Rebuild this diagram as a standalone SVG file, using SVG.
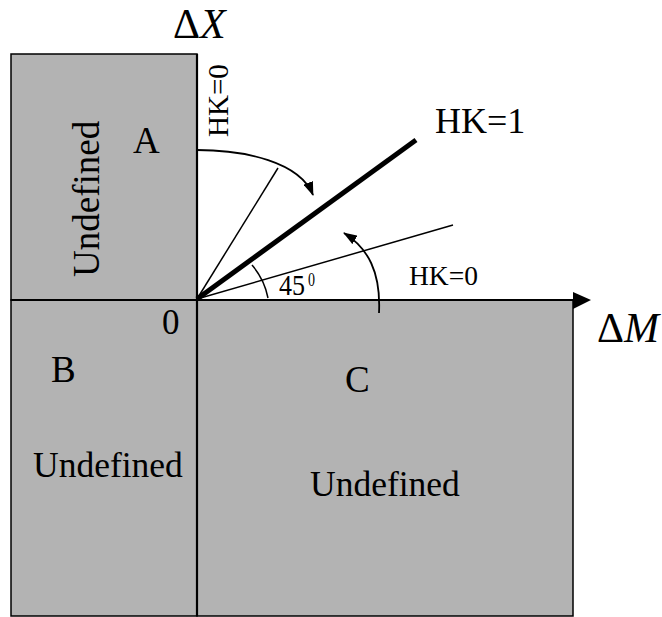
<svg xmlns="http://www.w3.org/2000/svg" width="662" height="617" viewBox="0 0 662 617">
<style>
.t{font-family:"Liberation Serif","Times New Roman",serif;fill:#000}
.reg{fill:#b3b3b3;stroke:#000;stroke-width:1.5}
.ln{stroke:#000;fill:none}
</style>
<defs>
<marker id="ah" viewBox="0 0 14 10" refX="13" refY="5" markerWidth="14" markerHeight="10" markerUnits="userSpaceOnUse" orient="auto">
<path d="M0,0 L14,5 L0,10 Z" fill="#000"/>
</marker>
</defs>
<rect width="662" height="617" fill="#fff"/>
<g id="regionA">
<rect class="reg" x="11" y="54" width="186" height="246"/>
<text class="t" font-size="37" transform="translate(99,277) rotate(-90)">Undefined</text>
<text class="t" x="133" y="153" font-size="37">A</text>
</g>
<g id="regionB">
<rect class="reg" x="11" y="300" width="186" height="316"/>
<text class="t" x="162" y="334" font-size="35">0</text>
<text class="t" x="51" y="382" font-size="37">B</text>
<text class="t" x="33" y="477" font-size="35.5">Undefined</text>
</g>
<g id="regionC">
<rect class="reg" x="197" y="300" width="376" height="316"/>
<text class="t" x="345" y="392" font-size="37">C</text>
<text class="t" x="310" y="496" font-size="35.5">Undefined</text>
</g>
<g id="axes">
<line class="ln" x1="11" y1="300" x2="575" y2="300" stroke-width="2.2"/>
<path d="M573,292 L591,300 L573,309 Z" fill="#000"/>
<line class="ln" x1="197" y1="54" x2="197" y2="616" stroke-width="2.2"/>
<text class="t" x="173" y="38" font-size="42">Δ<tspan font-style="italic">X</tspan></text>
<text class="t" x="597" y="342" font-size="42">Δ<tspan font-style="italic">M</tspan></text>
</g>
<g id="lines">
<line class="ln" x1="197" y1="299" x2="416" y2="140" stroke-width="5"/>
<line class="ln" x1="197" y1="299" x2="278" y2="168" stroke-width="1.5"/>
<line class="ln" x1="197" y1="299" x2="453" y2="225" stroke-width="1.5"/>
<path class="ln" d="M252,265 A71,71 0 0 1 268,298" stroke-width="1.5"/>
<text class="t" font-size="29" transform="translate(228,137) rotate(-90)">HK=0</text>
<text class="t" x="435" y="133" font-size="36">HK=1</text>
<text class="t" x="409" y="285" font-size="27.5">HK=0</text>
<text class="t" x="279" y="295" font-size="29" textLength="26" lengthAdjust="spacingAndGlyphs">45</text>
<text class="t" x="308" y="286" font-size="18" textLength="7" lengthAdjust="spacingAndGlyphs">0</text>
</g>
<g id="connectors">
<path class="ln" stroke-width="1.8" d="M197,150 C245,150 300,162 313,195" marker-end="url(#ah)"/>
<path class="ln" stroke-width="1.8" d="M379,313 C381,272 368,248 344,233" marker-end="url(#ah)"/>
</g>
</svg>
